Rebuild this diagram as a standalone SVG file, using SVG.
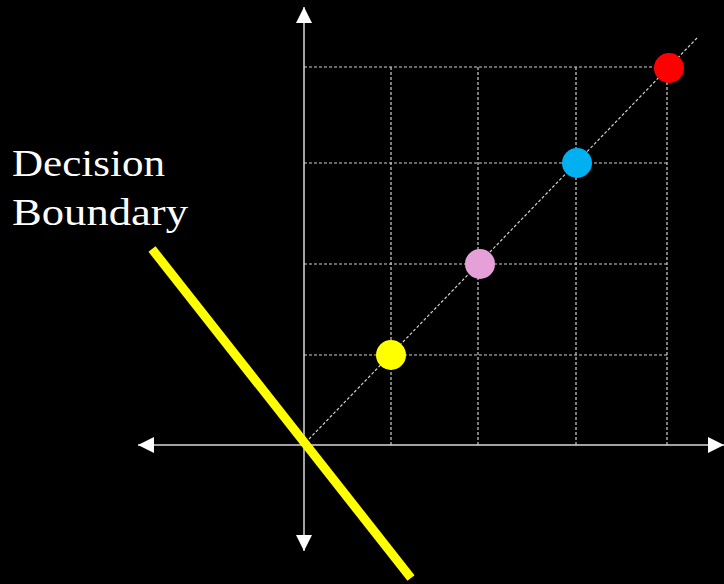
<svg xmlns="http://www.w3.org/2000/svg" width="724" height="584" viewBox="0 0 724 584">
<style>
.grid{stroke:#d0d0d0;stroke-width:1.2;stroke-dasharray:3 2;fill:none}
.axis{stroke:#d9d9d9;stroke-width:1.5;fill:none}
.lbl{font-family:"Liberation Serif","DejaVu Serif",serif;font-size:38px;fill:#ffffff}
</style>
<defs>
<marker id="ah" markerWidth="16" markerHeight="16" viewBox="0 0 16 16" refX="16" refY="8" orient="auto" markerUnits="userSpaceOnUse">
<path d="M0,0 L16,8 L0,16 Z" fill="#ffffff"/>
</marker>
</defs>
<rect width="724" height="584" fill="#000000"/>
<g id="grid">
<line class="grid" x1="304" y1="67" x2="667" y2="67"/>
<line class="grid" x1="304" y1="163" x2="667" y2="163"/>
<line class="grid" x1="304" y1="264" x2="667" y2="264"/>
<line class="grid" x1="304" y1="355" x2="667" y2="355"/>
<line class="grid" x1="391" y1="67" x2="391" y2="445"/>
<line class="grid" x1="478" y1="67" x2="478" y2="445"/>
<line class="grid" x1="576" y1="67" x2="576" y2="445"/>
<line class="grid" x1="667" y1="67" x2="667" y2="445"/>
<line class="grid" x1="309" y1="439" x2="698" y2="37"/>
</g>
<g id="axes">
<line class="axis" x1="304" y1="445" x2="304" y2="7" marker-end="url(#ah)"/>
<line class="axis" x1="304" y1="445" x2="304" y2="551" marker-end="url(#ah)"/>
<line class="axis" x1="304" y1="445" x2="724" y2="445" marker-end="url(#ah)"/>
<line class="axis" x1="304" y1="445" x2="138" y2="445" marker-end="url(#ah)"/>
</g>
<g id="boundary">
<line x1="152" y1="249" x2="411" y2="578" stroke="#ffff00" stroke-width="9"/>
</g>
<g id="p1"><circle cx="391" cy="355" r="15" fill="#ffff00"/></g>
<g id="p2"><circle cx="480" cy="264" r="15" fill="#e6a0d8"/></g>
<g id="p3"><circle cx="577" cy="163" r="15" fill="#00b0f0"/></g>
<g id="p4"><circle cx="669" cy="68" r="15" fill="#ff0000"/></g>
<g id="label">
<text class="lbl" x="12" y="176" textLength="153" lengthAdjust="spacingAndGlyphs">Decision</text>
<text class="lbl" x="12" y="225" textLength="176" lengthAdjust="spacingAndGlyphs">Boundary</text>
</g>
</svg>
